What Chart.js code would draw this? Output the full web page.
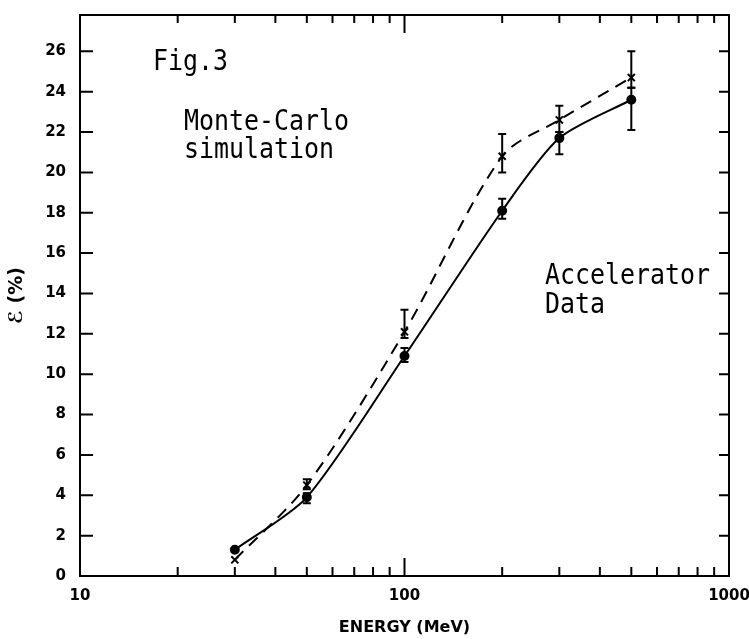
<!DOCTYPE html>
<html>
<head>
<meta charset="utf-8">
<script src="https://cdn.jsdelivr.net/npm/chart.js@4"></script>
<style>
  html, body { margin: 0; padding: 0; background: #fff; }
  #wrap { width: 749px; height: 639px; }
</style>
</head>
<body>
<div id="wrap"><canvas id="chart"></canvas></div>
<script>
// energies (MeV) and efficiencies (%)
const energy = [30, 50, 100, 200, 300, 500];
const accelEff = [1.3, 3.9, 10.9, 18.1, 21.7, 23.6];
const mcEff = [0.8, 4.5, 12.1, 20.8, 22.6, 24.7];

// error bar ends (null = no bar)
const accelLow = [null, 3.6, 10.6, 17.7, 20.9, 22.1];
const accelHigh = [null, 4.1, 11.3, 18.7, 22.0, 24.2];
const mcLow = [null, 4.3, 11.8, 20.0, 22.0, 24.2];
const mcHigh = [null, 4.8, 13.2, 21.9, 23.3, 26.0];

const yTicks = [0, 2, 4, 6, 8, 10, 12, 14, 16, 18, 20, 22, 24, 26];
const xMajor = [10, 100, 1000];
const xMinor = [20, 30, 40, 50, 60, 70, 80, 90, 200, 300, 400, 500, 600, 700, 800, 900];

const labelFont = { family: "DejaVu Sans", size: 15, weight: "bold" };

// frame + inward ticks, like the paper plot
const framePlugin = {
  id: "frame",
  afterDraw(chart) {
    const { ctx, chartArea: a, scales } = chart;
    const x = scales.x, y = scales.y;
    ctx.save();
    ctx.strokeStyle = "#000";
    ctx.lineWidth = 2;
    ctx.strokeRect(a.left, a.top, a.right - a.left, a.bottom - a.top);
    ctx.beginPath();
    yTicks.forEach(v => {
      const py = y.getPixelForValue(v);
      ctx.moveTo(a.left, py); ctx.lineTo(a.left + 13, py);
      ctx.moveTo(a.right, py); ctx.lineTo(a.right - 10, py);
    });
    xMinor.forEach(v => {
      const px = x.getPixelForValue(v);
      ctx.moveTo(px, a.bottom); ctx.lineTo(px, a.bottom - 9);
      ctx.moveTo(px, a.top); ctx.lineTo(px, a.top + 8);
    });
    const p100 = x.getPixelForValue(100);
    ctx.moveTo(p100, a.bottom); ctx.lineTo(p100, a.bottom - 18);
    ctx.moveTo(p100, a.top); ctx.lineTo(p100, a.top + 18);
    ctx.stroke();
    ctx.restore();
  }
};

const errorBarPlugin = {
  id: "errorBars",
  afterDatasetsDraw(chart) {
    const { ctx, scales } = chart;
    const x = scales.x, y = scales.y;
    ctx.save();
    ctx.strokeStyle = "#000";
    ctx.lineWidth = 2;
    [[accelLow, accelHigh], [mcLow, mcHigh]].forEach(([lo, hi]) => {
      energy.forEach((e, i) => {
        if (lo[i] == null) return;
        const px = x.getPixelForValue(e);
        const y1 = y.getPixelForValue(lo[i]);
        const y2 = y.getPixelForValue(hi[i]);
        ctx.beginPath();
        ctx.moveTo(px, y1); ctx.lineTo(px, y2);
        ctx.moveTo(px - 4, y1); ctx.lineTo(px + 4, y1);
        ctx.moveTo(px - 4, y2); ctx.lineTo(px + 4, y2);
        ctx.stroke();
      });
    });
    ctx.restore();
  }
};

// typewriter-style notes, narrow and tall like the original
function note(ctx, text, x, y) {
  ctx.save();
  ctx.translate(x, y);
  ctx.scale(0.89, 1);
  ctx.fillText(text, 0, 0);
  ctx.restore();
}

const notesPlugin = {
  id: "notes",
  afterDraw(chart) {
    const ctx = chart.ctx;
    ctx.save();
    ctx.fillStyle = "#000";
    ctx.font = "28px 'DejaVu Sans Mono'";
    ctx.textBaseline = "alphabetic";
    note(ctx, "Fig.3", 153, 70);
    note(ctx, "Monte-Carlo", 184, 130);
    note(ctx, "simulation", 184, 158);
    note(ctx, "Accelerator", 545, 284);
    note(ctx, "Data", 545, 313);
    ctx.restore();
  }
};

new Chart(document.getElementById("chart"), {
  type: "line",
  data: {
    datasets: [
      {
        label: "Accelerator Data",
        data: energy.map((e, i) => ({ x: e, y: accelEff[i] })),
        borderColor: "#000",
        backgroundColor: "#000",
        borderWidth: 2,
        pointStyle: "circle",
        pointRadius: 4,
        tension: 0.25,
      },
      {
        label: "Monte-Carlo simulation",
        data: energy.map((e, i) => ({ x: e, y: mcEff[i] })),
        borderColor: "#000",
        backgroundColor: "#000",
        borderWidth: 2,
        borderDash: [12, 8],
        pointStyle: "crossRot",
        pointRadius: 5,
        pointBorderWidth: 2,
        tension: 0.3,
      },
    ],
  },
  options: {
    responsive: true,
    maintainAspectRatio: false,
    animation: false,
    layout: { padding: { left: 0, right: 20, top: 15, bottom: 0 } },
    plugins: {
      legend: { display: false },
      tooltip: { enabled: false },
    },
    scales: {
      x: {
        type: "logarithmic",
        min: 10,
        max: 1000,
        afterFit: s => { s.height = 63; s.paddingRight = 0; s.paddingLeft = 0; },
        afterBuildTicks: s => { s.ticks = xMajor.map(v => ({ value: v })); },
        grid: { display: false },
        border: { display: false },
        ticks: {
          color: "#000",
          font: labelFont,
          padding: 3,
          maxRotation: 0,
          callback: v => String(v),
        },
        title: {
          display: true,
          text: "ENERGY (MeV)",
          color: "#000",
          font: { family: "DejaVu Sans", size: 16, weight: "bold" },
          padding: { top: 0, bottom: 2 },
        },
      },
      y: {
        min: 0,
        max: 27.8,
        afterFit: s => { s.width = 80; },
        afterBuildTicks: s => { s.ticks = yTicks.map(v => ({ value: v })); },
        grid: { display: false },
        border: { display: false },
        ticks: {
          color: "#000",
          font: labelFont,
          padding: 6,
        },
        title: {
          display: true,
          text: "ℰ (%)",
          color: "#000",
          font: { family: "DejaVu Sans", size: 19, weight: "bold" },
          padding: { top: 6, bottom: 0 },
        },
      },
    },
  },
  plugins: [framePlugin, errorBarPlugin, notesPlugin],
});
</script>
</body>
</html>
